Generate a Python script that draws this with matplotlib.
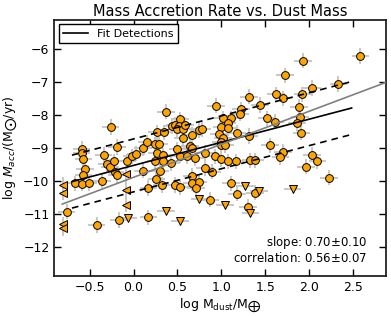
import matplotlib.pyplot as plt
import numpy as np

# detections: log Mdust, log Macc
det_x = [-0.26, 0.37, 0.53, -0.59, -0.59, -0.57, -0.55, -0.57, -0.67, -0.58, -0.51, -0.76,
         -0.19, -0.34, -0.36, -0.30, -0.27, -0.22, -0.21, -0.19, -0.07, -0.02, 0.03, 0.11,
         0.15, 0.24, 0.29, 0.27, 0.35, 0.44, 0.47, 0.52, 0.49, 0.56, 0.59, 0.67, 0.56, 0.64,
         0.50, 0.74, 0.78, 0.27, 0.34, 0.53, 0.61, 0.70, 0.81, 0.93, 0.25, 0.33, 0.43, 0.11,
         0.81, 0.89, 0.30, 0.26, 0.17, 0.32, 0.47, 0.53, 0.66, 0.66, 0.74, 0.71, 0.87,
         -0.42, -0.17, 0.17, 2.58, 1.93, 1.72, 2.33, 2.03, 1.62, 1.70, 1.92, 1.31, 0.94,
         1.44, 1.88, 1.22, 1.21, 1.52, 1.89, 1.61, 1.86, 1.91, 1.02, 1.11, 1.07, 1.00, 1.07,
         1.18, 0.97, 1.02, 0.99, 1.31, 1.00, 1.04, 1.55, 0.66, 1.00, 1.08, 1.16, 1.33, 1.38,
         1.70, 1.67, 1.96, 2.03, 2.09, 2.22, 1.11, 1.18, 1.38, 1.30]
det_y = [-8.36, -7.89, -8.12, -9.02, -9.15, -9.32, -9.63, -9.81, -10.06, -10.07, -10.06, -10.92,
         -8.96, -9.20, -9.98, -9.48, -9.57, -9.40, -9.71, -9.81, -9.40, -9.24, -9.17, -9.00,
         -8.82, -8.88, -8.88, -8.52, -8.52, -8.33, -8.30, -8.33, -8.43, -8.43, -8.29, -8.60, -8.70, -8.93,
         -9.03, -8.45, -8.43, -9.15, -9.22, -9.23, -9.25, -9.30, -9.13, -9.25, -9.40, -9.38, -9.45, -9.68,
         -9.60, -9.71, -9.70, -9.93, -10.20, -10.11, -10.11, -10.17, -9.84, -10.06, -10.01, -10.20, -10.56,
         -11.32, -11.17, -11.09, -6.21, -6.35, -6.79, -7.06, -7.18, -7.37, -7.49, -7.37, -7.44, -7.72,
         -7.69, -7.74, -7.82, -7.96, -8.09, -8.06, -8.20, -8.24, -8.53, -8.09, -8.09, -8.23, -8.37, -8.40,
         -8.53, -8.56, -8.69, -8.80, -8.63, -8.90, -8.90, -8.91, -9.00, -9.33, -9.40, -9.40, -9.37, -9.37,
         -9.11, -9.28, -9.56, -9.20, -9.40, -9.89, -10.06, -10.38, -10.34, -10.77]

# upper limits in accretion rate
ulacc_x = [-0.06, 0.37, 0.53, 0.75, 1.04, 1.27, 1.43, 1.81, 1.33]
ulacc_y = [-11.12, -10.91, -11.21, -10.54, -10.72, -10.14, -10.29, -10.23, -10.97]

# upper limits in dust mass
uldust_x = [-0.80, -0.80, -0.80, -0.80, -0.09, -0.09, -0.09]
uldust_y = [-10.11, -10.34, -11.30, -11.42, -9.79, -10.25, -10.71]

x_err = 0.1
y_err = 0.23

fit_slope, fit_icpt, fit_scatter = 0.70, -9.52, 0.80
fit_xrange = [-0.70, 2.48]
gray_slope, gray_icpt = 1.0, -9.88

fig = plt.figure(figsize=(3.91, 3.16), dpi=100)
ax = fig.add_axes([0.139, 0.127, 0.848, 0.81])

ebar = dict(ls='none', ecolor='#c4c4c4', elinewidth=1.3, capsize=0, zorder=2)
mk = dict(mfc='orange', mec='black', mew=0.7)
ax.errorbar(det_x, det_y, xerr=x_err, yerr=y_err, fmt='o', ms=5.6, **ebar, **mk)
ax.errorbar(ulacc_x, ulacc_y, xerr=x_err, fmt='v', ms=5.6, **ebar, **mk)
ax.errorbar(uldust_x, uldust_y, yerr=y_err, fmt='<', ms=5.6, **ebar, **mk)

xf = np.array(fit_xrange)
ax.plot(xf, fit_icpt + fit_slope * xf, color='black', lw=1.2, label='Fit Detections', zorder=4)
ax.plot(xf, fit_icpt + fit_slope * xf + fit_scatter, color='black', lw=1.2, ls=(0, (4, 3)), zorder=4)
ax.plot(xf, fit_icpt + fit_slope * xf - fit_scatter, color='black', lw=1.2, ls=(0, (4, 3)), zorder=4)
xg = np.array([-0.81, 3.0])
ax.plot(xg, gray_icpt + gray_slope * xg, color='gray', lw=1.2, zorder=4)

ax.set_xlim(-0.9, 2.87)
ax.set_ylim(-12.86, -5.12)
ax.set_xticks([-0.5, 0.0, 0.5, 1.0, 1.5, 2.0, 2.5])
ax.set_yticks([-12, -11, -10, -9, -8, -7, -6])
ax.tick_params(direction='in', top=True, right=True, length=5, labelsize=9, width=1)
for s in ax.spines.values():
    s.set_linewidth(1.3)
    s.set_color('#222222')

ax.set_title('Mass Accretion Rate vs. Dust Mass', fontsize=10.5, pad=3)
ax.set_xlabel(r'log M$_{\rm dust}$/M$_{\bigoplus}$', fontsize=9, labelpad=2)
ax.set_ylabel(r'log $\dot{M}_{acc}$/(M$_{\bigodot}$/yr)', fontsize=9, labelpad=2)

ax.text(0.943, 0.13, r'slope: 0.70$\pm$0.10', transform=ax.transAxes, ha='right', va='center', fontsize=8.5)
ax.text(0.943, 0.068, r'correlation: 0.56$\pm$0.07', transform=ax.transAxes, ha='right', va='center', fontsize=8.5)

leg = ax.legend(loc='upper left', fontsize=8, fancybox=False, edgecolor='black', framealpha=1,
                handlelength=2.2, borderaxespad=0.4)
leg.get_frame().set_linewidth(1.0)

fig.savefig('out.png', dpi=100)
